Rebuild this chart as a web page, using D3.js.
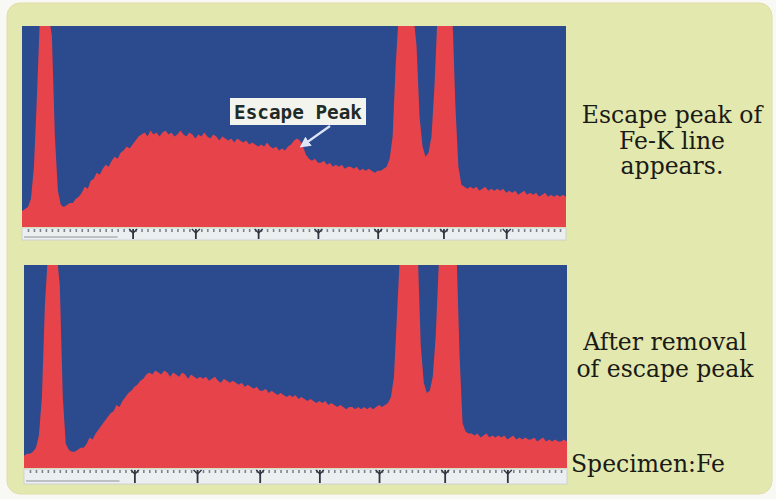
<!DOCTYPE html>
<html>
<head>
<meta charset="utf-8">
<script src="https://cdn.jsdelivr.net/npm/d3@7"></script>
<style>
  html, body { margin: 0; padding: 0; background: #f8f8f5; }
  svg { display: block; }
</style>
</head>
<body>
<svg id="fig" width="776" height="499"></svg>
<script>
// Energy channels of the EDS spectrum (keV), 0.05 keV per channel
const channelStart = 0;
const channelStep = 0.05;
const energyMax = 9.1;

// Counts (percent of full scale) with the Fe-K escape peak present
const countsWithEscape = [
  8, 9, 10, 14, 30, 65, 120, 180, 190, 150,
  95, 45, 18, 11, 10, 11, 12, 12, 14, 15,
  17, 20, 19, 23, 24, 27, 26, 29, 31, 30,
  33, 35, 34, 37, 38, 40, 39, 41, 43, 45,
  46, 47, 45, 48, 46, 47, 45, 47, 48, 46,
  47, 45, 46, 48, 46, 45, 47, 46, 44, 46,
  45, 47, 45, 44, 46, 45, 43, 45, 44, 43,
  44, 42, 44, 43, 42, 43, 41, 42, 41, 40,
  41, 40, 42, 40, 39, 40, 38, 39, 38, 40,
  41, 43, 44, 43, 40, 36, 34, 33, 34, 32,
  32, 33, 31, 32, 30, 31, 30, 31, 29, 30,
  30, 29, 30, 28, 29, 28, 29, 28, 27, 28,
  28, 29, 30, 34, 45, 80, 130, 200, 220, 210,
  190, 140, 90, 55, 40, 35, 37, 45, 70, 110,
  150, 165, 160, 140, 115, 60, 30, 21, 20, 19,
  20, 19, 20, 18, 19, 20, 18, 19, 18, 19,
  18, 19, 17, 18, 17, 18, 16, 17, 18, 16,
  17, 16, 17, 15, 16, 17, 15, 16, 15, 16,
  15, 16, 15
];

// Counts after the escape peak has been removed
const countsRemoved = [
  6, 7, 7, 8, 10, 16, 35, 80, 150, 190,
  200, 160, 90, 35, 12, 9, 8, 8, 9, 10,
  10, 12, 15, 14, 17, 19, 21, 23, 25, 27,
  28, 31, 30, 33, 35, 37, 38, 40, 41, 43,
  44, 46, 47, 46, 48, 47, 46, 48, 47, 45,
  47, 46, 45, 47, 46, 44, 46, 45, 44, 45,
  44, 45, 43, 44, 45, 43, 42, 44, 43, 42,
  43, 42, 41, 42, 40, 41, 40, 39, 40, 38,
  38, 39, 37, 38, 37, 36, 37, 36, 35, 36,
  35, 36, 34, 35, 34, 33, 34, 33, 32, 33,
  32, 33, 31, 32, 31, 30, 31, 30, 29, 30,
  30, 29, 30, 29, 30, 29, 30, 29, 30, 31,
  30, 31, 32, 35, 45, 75, 125, 190, 215, 210,
  195, 160, 110, 60, 42, 37, 38, 45, 65, 100,
  140, 160, 165, 150, 125, 110, 55, 22, 18, 17,
  17, 16, 17, 15, 16, 17, 15, 16, 15, 16,
  15, 16, 14, 15, 16, 14, 15, 14, 15, 14,
  14, 15, 13, 14, 15, 13, 14, 13, 14, 13,
  13, 14, 13
];

// Marker positions on the energy ruler under each spectrum (keV)
const rulerMarks = [1.85, 2.9, 3.95, 4.95, 5.95, 7.05, 8.1];
const rulerMinor = d3.range(0.1, 9.1, 0.1);

const noteTop = ["Escape peak of", "Fe-K line", "appears."];
const noteBottom = ["After removal", "of escape peak"];
const specimenLabel = "Specimen:Fe";
const escapeLabel = "Escape Peak";
const escapeEnergy = 4.62;

const colors = {
  panel: "#e2e8ae",
  plotBg: "#2c4a8e",
  spectrum: "#e6444a",
  ruler: "#eceff0",
  tick: "#7c828c",
  mark: "#2f3440",
  text: "#1a1a16"
};

const svg = d3.select("#fig");

// Background card
svg.append("rect")
  .attr("x", 7).attr("y", 3).attr("width", 765).attr("height", 491)
  .attr("rx", 13).attr("ry", 13)
  .attr("fill", colors.panel)
  .attr("stroke", "#e3dcaa").attr("stroke-width", 1);

function drawSpectrum(cfg) {
  const x = d3.scaleLinear().domain([0, energyMax]).range([cfg.left, cfg.right]);
  const y = d3.scaleLinear().domain([0, 100]).range([cfg.bottom, cfg.top]);
  const clipId = "clip-" + cfg.id;

  svg.append("clipPath").attr("id", clipId)
    .append("rect")
    .attr("x", cfg.left).attr("y", cfg.top)
    .attr("width", cfg.right - cfg.left).attr("height", cfg.bottom - cfg.top);

  const g = svg.append("g").attr("clip-path", `url(#${clipId})`);

  g.append("rect")
    .attr("x", cfg.left).attr("y", cfg.top)
    .attr("width", cfg.right - cfg.left).attr("height", cfg.bottom - cfg.top)
    .attr("fill", colors.plotBg);

  const pts = cfg.counts.map((c, i) => ({ e: channelStart + i * channelStep, c }));
  const area = d3.area()
    .x(d => x(d.e))
    .y0(y(0))
    .y1(d => y(Math.min(d.c, 105)))
    .curve(d3.curveLinear);

  g.append("path")
    .datum(pts)
    .attr("d", area)
    .attr("fill", colors.spectrum);

  // Energy ruler strip
  const rg = svg.append("g");
  rg.append("rect")
    .attr("x", cfg.left).attr("y", cfg.bottom + 1)
    .attr("width", cfg.right - cfg.left).attr("height", cfg.rulerH)
    .attr("fill", colors.ruler)
    .attr("stroke", "#c9cdd2").attr("stroke-width", 0.8);

  const minorAxis = d3.axisBottom(x).tickValues(rulerMinor).tickSize(3).tickFormat("");
  const minor = rg.append("g")
    .attr("transform", `translate(0,${cfg.bottom + 2})`)
    .call(minorAxis);
  minor.select(".domain").remove();
  minor.selectAll(".tick line").attr("stroke", colors.tick).attr("stroke-width", 1.6);

  rg.append("line")
    .attr("x1", cfg.left + 2).attr("x2", x(1.6))
    .attr("y1", cfg.bottom + cfg.rulerH - 2).attr("y2", cfg.bottom + cfg.rulerH - 2)
    .attr("stroke", "#8d939c").attr("stroke-width", 1.2);

  const majorAxis = d3.axisBottom(x).tickValues(rulerMarks).tickSize(cfg.rulerH - 2).tickFormat("");
  const major = rg.append("g")
    .attr("transform", `translate(0,${cfg.bottom + 2})`)
    .call(majorAxis);
  major.select(".domain").remove();
  major.selectAll(".tick line").attr("stroke", colors.mark).attr("stroke-width", 1.8);
  major.selectAll(".tick").append("path")
    .attr("d", "M-4,0 L0,4 L4,0")
    .attr("fill", "none")
    .attr("stroke", colors.mark).attr("stroke-width", 1.4);

  return { x, y };
}

const topScales = drawSpectrum({
  id: "a", counts: countsWithEscape,
  left: 22, right: 566, top: 26, bottom: 227, rulerH: 12
});
drawSpectrum({
  id: "b", counts: countsRemoved,
  left: 24, right: 567, top: 265, bottom: 468, rulerH: 15
});

// Escape peak callout
const lab = svg.append("g");
lab.append("rect")
  .attr("x", 230).attr("y", 98).attr("width", 136).attr("height", 27)
  .attr("fill", "#f3f4ee");
lab.append("text")
  .attr("x", 298).attr("y", 119)
  .attr("text-anchor", "middle")
  .attr("font-family", "DejaVu Sans Mono, monospace")
  .attr("font-weight", "bold")
  .attr("font-size", 19)
  .attr("textLength", 128)
  .attr("lengthAdjust", "spacingAndGlyphs")
  .attr("fill", "#1f2b27")
  .text(escapeLabel);

svg.append("defs").append("marker")
  .attr("id", "arrowhead")
  .attr("viewBox", "0 0 10 10")
  .attr("refX", 6).attr("refY", 5)
  .attr("markerWidth", 5).attr("markerHeight", 5)
  .attr("orient", "auto")
  .append("path").attr("d", "M0,0 L10,5 L0,10 z").attr("fill", "#dde6f6");

const ax = topScales.x(escapeEnergy);
svg.append("line")
  .attr("x1", 330).attr("y1", 126)
  .attr("x2", ax + 5).attr("y2", 145)
  .attr("stroke", "#dde6f6").attr("stroke-width", 2.2)
  .attr("marker-end", "url(#arrowhead)");

// Notes on the right
const serif = "'DejaVu Serif', 'Liberation Serif', serif";
svg.append("g").selectAll("text").data(noteTop).join("text")
  .attr("x", 672).attr("y", (d, i) => 123 + i * 25.5)
  .attr("text-anchor", "middle")
  .attr("font-family", serif).attr("font-size", 23.5)
  .attr("fill", colors.text)
  .text(d => d);

svg.append("g").selectAll("text").data(noteBottom).join("text")
  .attr("x", 665).attr("y", (d, i) => 350 + i * 27)
  .attr("text-anchor", "middle")
  .attr("font-family", serif).attr("font-size", 23.5)
  .attr("fill", colors.text)
  .text(d => d);

svg.append("text")
  .attr("x", 571).attr("y", 472)
  .attr("font-family", serif).attr("font-size", 23.5)
  .attr("fill", colors.text)
  .text(specimenLabel);
</script>
</body>
</html>
